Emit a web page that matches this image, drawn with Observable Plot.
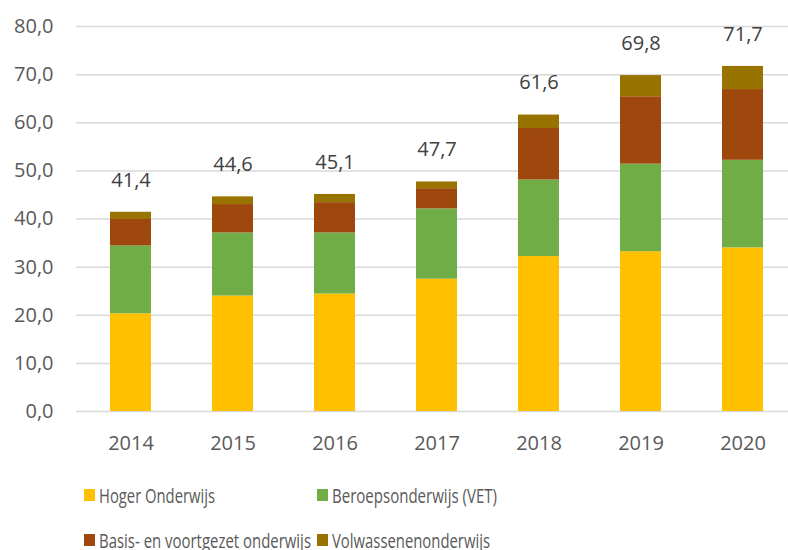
<!DOCTYPE html>
<html>
<head>
<meta charset="utf-8">
<script src="https://cdn.jsdelivr.net/npm/d3@7"></script>
<script src="https://cdn.jsdelivr.net/npm/@observablehq/plot@0.6"></script>
<style>
  html, body { margin: 0; padding: 0; background: #fff; overflow: hidden; }
  #wrap { width: 788px; height: 550px; overflow: hidden; position: relative; font-family: "Open Sans", sans-serif; }
  #chart { width: 796px; }
  #chart svg { display: block; max-width: none !important; width: 796px; height: 465px; }
  #legend { position: relative; width: 788px; height: 85px; color: #595959; font-size: 19.5px; font-family: "Open Sans", sans-serif; }
  .item { position: absolute; display: flex; align-items: center; white-space: nowrap; }
  .sw { width: 11px; height: 12px; margin-right: 4px; flex: none; }
  .tx { display: inline-block; transform-origin: left center; }
</style>
</head>
<body>
<div id="wrap">
  <div id="chart"></div>
  <div id="legend"></div>
</div>
<script>
const years = ["2014", "2015", "2016", "2017", "2018", "2019", "2020"];
const seriesNames = ["Hoger Onderwijs", "Beroepsonderwijs (VET)", "Basis- en voortgezet onderwijs", "Volwassenenonderwijs"];
const hogerOnderwijs = [20.3, 24.0, 24.4, 27.5, 32.2, 33.2, 34.0];
const beroepsonderwijs = [14.1, 13.1, 12.7, 14.6, 15.9, 18.2, 18.2];
const basisVoortgezet = [5.5, 5.9, 6.3, 4.2, 10.7, 14.0, 14.7];
const volwassenen = [1.5, 1.6, 1.7, 1.4, 2.8, 4.4, 4.8];
const totals = [41.4, 44.6, 45.1, 47.7, 61.6, 69.8, 71.7];
const yTicks = [0, 10, 20, 30, 40, 50, 60, 70, 80];
const colors = ["#FFC000", "#70AD47", "#9E480E", "#997300"];

const seriesValues = [hogerOnderwijs, beroepsonderwijs, basisVoortgezet, volwassenen];
const data = [];
seriesNames.forEach((name, si) => {
  years.forEach((year, yi) => data.push({ year, series: name, value: seriesValues[si][yi] }));
});
const totalData = years.map((year, i) => ({ year, total: totals[i] }));
const fmt = d => d.toFixed(1).replace(".", ",");

const chart = Plot.plot({
  width: 796,
  height: 465,
  marginLeft: 76,
  marginRight: 0,
  marginTop: 26,
  marginBottom: 54,
  style: { fontFamily: "Open Sans, sans-serif", color: "#595959", background: "#fff" },
  x: { domain: years, paddingInner: 0.6, paddingOuter: 0.3, label: null },
  y: { domain: [0, 80], label: null },
  color: { domain: seriesNames, range: colors },
  marks: [
    Plot.ruleY(yTicks, { stroke: "#d9d9d9", strokeWidth: 1.5 }),
    Plot.barY(data, { x: "year", y: "value", fill: "series", order: seriesNames }),
    Plot.text(totalData, { x: "year", y: "total", text: d => fmt(d.total), dy: -32, fontSize: 20, fill: "#404040" }),
    Plot.axisY({ ticks: yTicks, tickSize: 0, tickPadding: 23, tickFormat: fmt, fontSize: 20, label: null }),
    Plot.axisX({ tickSize: 0, tickPadding: 24, fontSize: 20, label: null })
  ]
});
document.getElementById("chart").appendChild(chart);

const legend = document.getElementById("legend");
const positions = [
  { left: 84, top: 30, w: 116 },
  { left: 317, top: 30, w: 165 },
  { left: 84, top: 75, w: 212 },
  { left: 317, top: 75, w: 158 }
];
seriesNames.forEach((name, i) => {
  const it = document.createElement("div");
  it.className = "item";
  it.style.left = positions[i].left + "px";
  it.style.top = (positions[i].top - 14) + "px";
  it.style.height = "28px";
  const sw = document.createElement("span");
  sw.className = "sw";
  sw.style.background = colors[i];
  const tx = document.createElement("span");
  tx.className = "tx";
  tx.textContent = name;
  it.appendChild(sw);
  it.appendChild(tx);
  legend.appendChild(it);
  const w = tx.getBoundingClientRect().width;
  if (w > 0) tx.style.transform = `scaleX(${positions[i].w / w})`;
});
</script>
</body>
</html>
